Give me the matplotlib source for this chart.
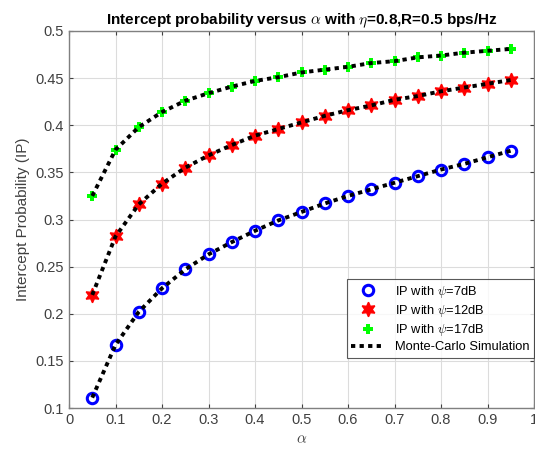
import matplotlib
matplotlib.use("Agg")
import matplotlib.pyplot as plt
import numpy as np

plt.rcParams['font.family'] = ['Liberation Sans', 'DejaVu Sans']
plt.rcParams['mathtext.fontset'] = 'cm'

alpha = [0.05, 0.10, 0.15, 0.20, 0.25, 0.30, 0.35, 0.40, 0.45, 0.50,
         0.55, 0.60, 0.65, 0.70, 0.75, 0.80, 0.85, 0.90, 0.95]

ip_7db = [0.111, 0.167, 0.202, 0.227, 0.247, 0.263, 0.276, 0.288, 0.299, 0.308,
          0.317, 0.325, 0.332, 0.339, 0.346, 0.353, 0.359, 0.366, 0.373]
ip_12db = [0.220, 0.282, 0.316, 0.338, 0.355, 0.368, 0.379, 0.389, 0.396, 0.403,
           0.410, 0.416, 0.421, 0.427, 0.431, 0.436, 0.440, 0.444, 0.448]
ip_17db = [0.325, 0.374, 0.398, 0.414, 0.426, 0.434, 0.441, 0.447, 0.451, 0.456,
           0.459, 0.462, 0.466, 0.468, 0.472, 0.474, 0.477, 0.479, 0.481]

fig = plt.figure(figsize=(5.35, 4.55), dpi=100)
ax = fig.add_axes([69 / 535, 47 / 455, 465 / 535, 377 / 455])

ax.plot(alpha, ip_7db, 'o', color='blue', mfc='none', mew=2.2, ms=7.5,
        label=r'IP with $\psi$=7dB')
ax.plot(alpha, ip_12db, marker=(6, 1, 0), ls='none', color='red', ms=10.5,
        label=r'IP with $\psi$=12dB')
ax.plot(alpha, ip_17db, 'P', color='#00ff00', ms=6.5, mew=0,
        label=r'IP with $\psi$=17dB')

for i, ip in enumerate([ip_7db, ip_12db, ip_17db]):
    ax.plot(alpha, ip, color='black', lw=2.8, dashes=(1.1, 1.1),
            label='Monte-Carlo Simulation' if i == 0 else None)

ax.set_xlim(0, 1)
ax.set_ylim(0.1, 0.5)
ax.set_xticks(np.arange(0, 1.01, 0.1))
ax.set_xticklabels(['0', '0.1', '0.2', '0.3', '0.4', '0.5', '0.6', '0.7', '0.8', '0.9', '1'])
ax.set_yticks(np.arange(0.1, 0.51, 0.05))
ax.set_yticklabels(['0.1', '0.15', '0.2', '0.25', '0.3', '0.35', '0.4', '0.45', '0.5'])
ax.grid(True, color='#dcdcdc', lw=0.8)
ax.tick_params(direction='in', length=3, top=True, right=True,
               labelsize=10.5, colors='#404040')
for s in ax.spines.values():
    s.set_color('#808080')
    s.set_linewidth(1)

ax.set_title(r'Intercept probability versus $\alpha$ with $\eta$=0.8,R=0.5 bps/Hz',
             fontsize=11, fontweight='bold', pad=5)
ax.set_xlabel(r'$\alpha$', fontsize=11, color='#404040')
ax.set_ylabel('Intercept Probability (IP)', fontsize=11, color='#404040')

leg = ax.legend(loc='lower right', bbox_to_anchor=(1.0, 0.133), fontsize=9.3,
                frameon=True, fancybox=False, edgecolor='#303030',
                borderaxespad=0, handlelength=2.6, labelspacing=0.25,
                borderpad=0.35)
leg.get_frame().set_linewidth(0.8)

fig.savefig('out.png', dpi=100)
